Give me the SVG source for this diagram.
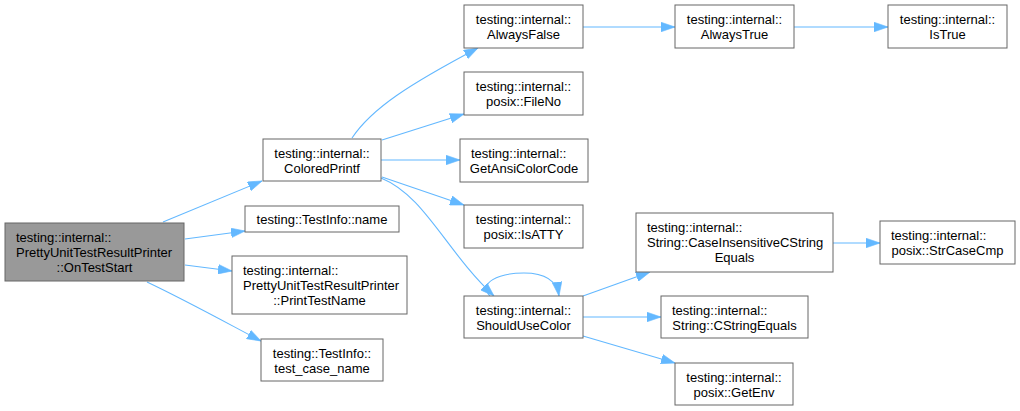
<svg xmlns="http://www.w3.org/2000/svg" width="1020" height="411" viewBox="0 0 1020 411">
<defs>
<style>
.n rect{fill:#ffffff;stroke:#666666;stroke-width:1}
.n.root rect{fill:#999999}
.n text{font-family:"Liberation Sans",Arial,sans-serif;font-size:13px;fill:#000000}
.m{text-anchor:middle}
.e path{fill:none;stroke:#63b8ff;stroke-width:1.1;marker-end:url(#ah)}
</style>
<marker id="ah" markerUnits="userSpaceOnUse" markerWidth="14" markerHeight="10" viewBox="0 0 14 10" refX="14" refY="5" orient="auto">
<path d="M0,0.2 L14,5 L0,9.8 z" fill="#63b8ff" stroke="#63b8ff" stroke-width="0.6"/>
</marker>
</defs>
<rect width="1020" height="411" fill="#ffffff"/>
<g id="edges" class="e">
<path d="M163,222 L262,181"/>
<path d="M185,239 L245,231"/>
<path d="M185,265 L232,271"/>
<path d="M147,282 C185,300 225,322 261,341"/>
<path d="M352,138 C372,108 410,84 478,48"/>
<path d="M382,140 L464,114"/>
<path d="M381,160 L460,160"/>
<path d="M382,177 L464,205"/>
<path d="M381,178 C425,196 445,250 494,296"/>
<path d="M490,296 C478,283 498,273 524,273 C546,273 557,282 559,296"/>
<path d="M583,296 L650,272"/>
<path d="M583,317 L661,317"/>
<path d="M583,336 L675,363"/>
<path d="M583,27 L675,27"/>
<path d="M794,27 L888,27"/>
<path d="M833,243 L880,243"/>
</g>
<g id="OnTestStart" class="n root">
<rect x="5" y="223" width="179" height="58"/>
<text x="16" y="242">testing::internal::</text>
<text x="16" y="257">PrettyUnitTestResultPrinter</text>
<text class="m" x="94.5" y="272">::OnTestStart</text>
</g>
<g id="ColoredPrintf" class="n">
<rect x="263" y="139" width="118" height="42"/>
<text class="m" x="322" y="157.5">testing::internal::</text>
<text class="m" x="322" y="172.5">ColoredPrintf</text>
</g>
<g id="name" class="n">
<rect x="245" y="206" width="154" height="26"/>
<text class="m" x="322" y="223.5">testing::TestInfo::name</text>
</g>
<g id="PrintTestName" class="n">
<rect x="232" y="256" width="175" height="58"/>
<text x="243" y="275">testing::internal::</text>
<text x="243" y="290">PrettyUnitTestResultPrinter</text>
<text class="m" x="319.5" y="305">::PrintTestName</text>
</g>
<g id="test_case_name" class="n">
<rect x="261" y="339" width="122" height="42"/>
<text class="m" x="322" y="357.5">testing::TestInfo::</text>
<text class="m" x="322" y="372.5">test_case_name</text>
</g>
<g id="AlwaysFalse" class="n">
<rect x="464" y="5" width="119" height="43"/>
<text class="m" x="523.5" y="23.5">testing::internal::</text>
<text class="m" x="523.5" y="38.5">AlwaysFalse</text>
</g>
<g id="FileNo" class="n">
<rect x="464" y="72" width="119" height="43"/>
<text class="m" x="523.5" y="90.5">testing::internal::</text>
<text class="m" x="523.5" y="105.5">posix::FileNo</text>
</g>
<g id="GetAnsiColorCode" class="n">
<rect x="460" y="139" width="128" height="43"/>
<text x="471" y="157.5">testing::internal::</text>
<text class="m" x="524" y="172.5">GetAnsiColorCode</text>
</g>
<g id="IsATTY" class="n">
<rect x="464" y="205" width="119" height="43"/>
<text class="m" x="523.5" y="223.5">testing::internal::</text>
<text class="m" x="523.5" y="238.5">posix::IsATTY</text>
</g>
<g id="ShouldUseColor" class="n">
<rect x="464" y="296" width="119" height="42"/>
<text class="m" x="523.5" y="314.5">testing::internal::</text>
<text class="m" x="523.5" y="329.5">ShouldUseColor</text>
</g>
<g id="AlwaysTrue" class="n">
<rect x="675" y="5" width="119" height="43"/>
<text class="m" x="734.5" y="23.5">testing::internal::</text>
<text class="m" x="734.5" y="38.5">AlwaysTrue</text>
</g>
<g id="IsTrue" class="n">
<rect x="888" y="5" width="119" height="43"/>
<text class="m" x="947.5" y="23.5">testing::internal::</text>
<text class="m" x="947.5" y="38.5">IsTrue</text>
</g>
<g id="CaseInsensitiveCStringEquals" class="n">
<rect x="636" y="213" width="197" height="59"/>
<text x="647" y="232">testing::internal::</text>
<text x="647" y="247">String::CaseInsensitiveCString</text>
<text class="m" x="734.5" y="262">Equals</text>
</g>
<g id="CStringEquals" class="n">
<rect x="661" y="296" width="147" height="42"/>
<text x="672" y="314.5">testing::internal::</text>
<text class="m" x="734.5" y="329.5">String::CStringEquals</text>
</g>
<g id="GetEnv" class="n">
<rect x="675" y="363" width="118" height="42"/>
<text class="m" x="734" y="381.5">testing::internal::</text>
<text class="m" x="734" y="396.5">posix::GetEnv</text>
</g>
<g id="StrCaseCmp" class="n">
<rect x="880" y="221" width="135" height="43"/>
<text x="891" y="239.5">testing::internal::</text>
<text class="m" x="947.5" y="254.5">posix::StrCaseCmp</text>
</g>
</svg>
